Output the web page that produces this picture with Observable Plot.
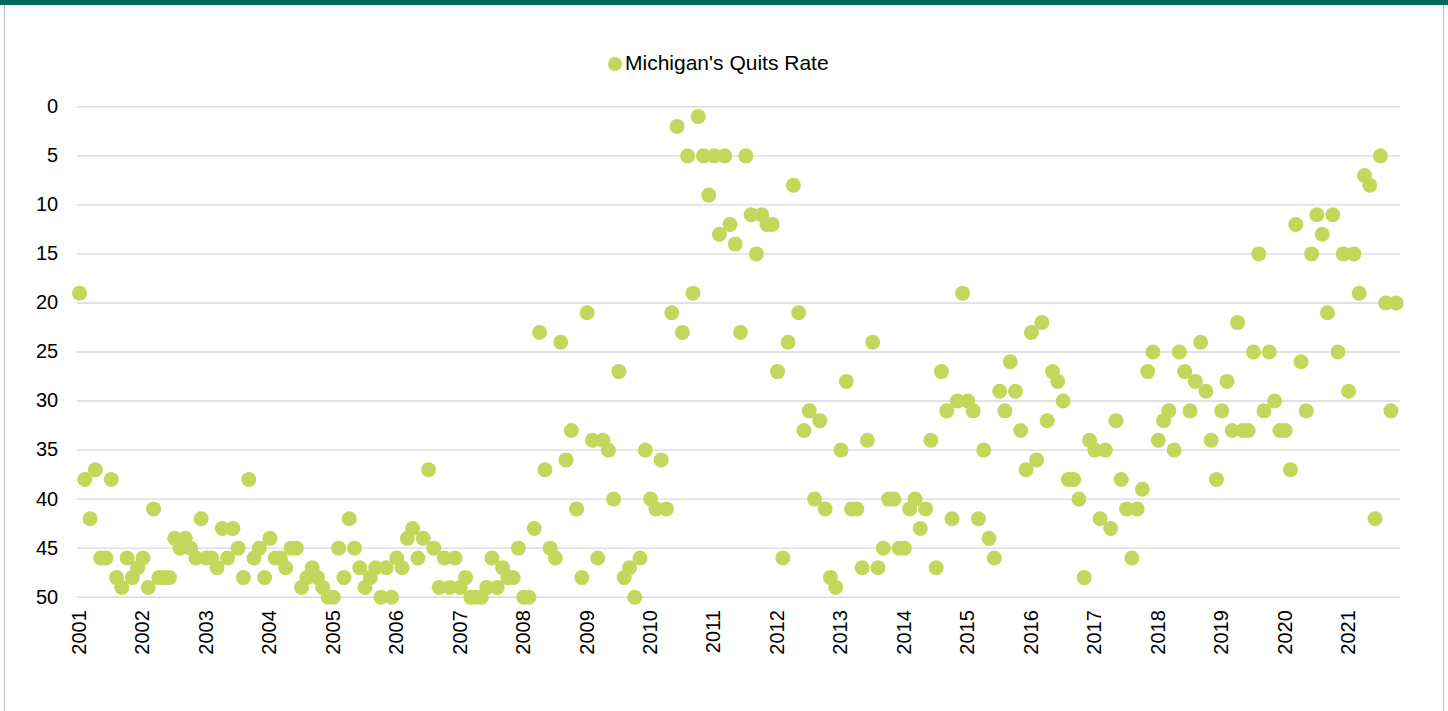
<!DOCTYPE html>
<html>
<head>
<meta charset="utf-8">
<script src="https://cdn.jsdelivr.net/npm/d3@7"></script>
<script src="https://cdn.jsdelivr.net/npm/@observablehq/plot@0.6"></script>
<style>
  html, body { margin: 0; padding: 0; background: #fff; }
  #page { position: relative; width: 1448px; height: 711px; overflow: hidden; background: #fff;
          font-family: "Liberation Sans", Arial, sans-serif; }
  #band { position: absolute; left: 0; top: 0; width: 1448px; height: 5px; background: #006b5b; }
  #bl { position: absolute; left: 4px; top: 5px; width: 1px; height: 706px; background: #bfbfbf; }
  #br { position: absolute; left: 1443px; top: 5px; width: 1px; height: 706px; background: #bfbfbf; }
  #legend { height: 80px; margin-top: 5px; box-sizing: border-box; padding-top: 47px; padding-left: 608px;
            font-size: 21px; line-height: 22px; color: #000; white-space: nowrap; }
  #legend .sw { display: inline-block; width: 14px; height: 14px; border-radius: 50%; background: #c2d85c;
                margin-right: 3px; vertical-align: -1px; }
  #chart svg { display: block; }
</style>
</head>
<body>
<div id="page">
  <div id="band"></div>
  <div id="legend"><span class="sw"></span>Michigan's Quits Rate</div>
  <div id="chart"></div>
  <div id="bl"></div>
  <div id="br"></div>
</div>
<script>
const seriesName = "Michigan's Quits Rate";
const yearLabels = ["2001","2002","2003","2004","2005","2006","2007","2008","2009","2010",
                    "2011","2012","2013","2014","2015","2016","2017","2018","2019","2020","2021"];
const yTicks = [0, 5, 10, 15, 20, 25, 30, 35, 40, 45, 50];
// Monthly values (rank), January 2001 onward
const v2001 = [19, 38, 42, 37, 46, 46, 38, 48, 49, 46, 48, 47];
const v2002 = [46, 49, 41, 48, 48, 48, 44, 45, 44, 45, 46, 42];
const v2003 = [46, 46, 47, 43, 46, 43, 45, 48, 38, 46, 45, 48];
const v2004 = [44, 46, 46, 47, 45, 45, 49, 48, 47, 48, 49, 50];
const v2005 = [50, 45, 48, 42, 45, 47, 49, 48, 47, 50, 47, 50];
const v2006 = [46, 47, 44, 43, 46, 44, 37, 45, 49, 46, 49, 46];
const v2007 = [49, 48, 50, 50, 50, 49, 46, 49, 47, 48, 48, 45];
const v2008 = [50, 50, 43, 23, 37, 45, 46, 24, 36, 33, 41, 48];
const v2009 = [21, 34, 46, 34, 35, 40, 27, 48, 47, 50, 46, 35];
const v2010 = [40, 41, 36, 41, 21, 2, 23, 5, 19, 1, 5, 9];
const v2011 = [5, 13, 5, 12, 14, 23, 5, 11, 15, 11, 12, 12];
const v2012 = [27, 46, 24, 8, 21, 33, 31, 40, 32, 41, 48, 49];
const v2013 = [35, 28, 41, 41, 47, 34, 24, 47, 45, 40, 40, 45];
const v2014 = [45, 41, 40, 43, 41, 34, 47, 27, 31, 42, 30, 19];
const v2015 = [30, 31, 42, 35, 44, 46, 29, 31, 26, 29, 33, 37];
const v2016 = [23, 36, 22, 32, 27, 28, 30, 38, 38, 40, 48, 34];
const v2017 = [35, 42, 35, 43, 32, 38, 41, 46, 41, 39, 27, 25];
const v2018 = [34, 32, 31, 35, 25, 27, 31, 28, 24, 29, 34, 38];
const v2019 = [31, 28, 33, 22, 33, 33, 25, 15, 31, 25, 30, 33];
const v2020 = [33, 37, 12, 26, 31, 15, 11, 13, 21, 11, 25, 15];
const v2021 = [29, 15, 19, 7, 8, 42, 5, 20, 31, 20];

const byYear = [v2001, v2002, v2003, v2004, v2005, v2006, v2007, v2008, v2009, v2010,
                v2011, v2012, v2013, v2014, v2015, v2016, v2017, v2018, v2019, v2020, v2021];
const data = [];
byYear.forEach((arr, k) => arr.forEach((v, m) => data.push({month: k * 12 + m, value: v})));
const yearTicks = yearLabels.map((_, k) => k * 12);

const chart = Plot.plot({
  width: 1448,
  height: 626,
  marginTop: 21.3,
  marginBottom: 114.3,
  marginLeft: 76.7,
  marginRight: 48,
  style: {fontFamily: "'Liberation Sans', Arial, sans-serif", fontSize: "20px", color: "#000", background: "transparent"},
  x: {type: "linear", domain: [-0.44, 249.81]},
  y: {domain: [0, 50], reverse: true},
  marks: [
    Plot.ruleY(yTicks, {stroke: "#d9d9d9", strokeWidth: 1.4}),
    Plot.axisY({ticks: yTicks, tickSize: 0, tickPadding: 19, label: null, fontSize: 20}),
    Plot.axisX({ticks: yearTicks, tickFormat: d => yearLabels[Math.round(d / 12)], tickRotate: -90,
                tickSize: 0, tickPadding: 13, label: null, fontSize: 20}),
    Plot.dot(data, {x: "month", y: "value", r: 7.5, fill: "#c2d85c", stroke: null})
  ]
});
document.getElementById("chart").appendChild(chart);
</script>
</body>
</html>
